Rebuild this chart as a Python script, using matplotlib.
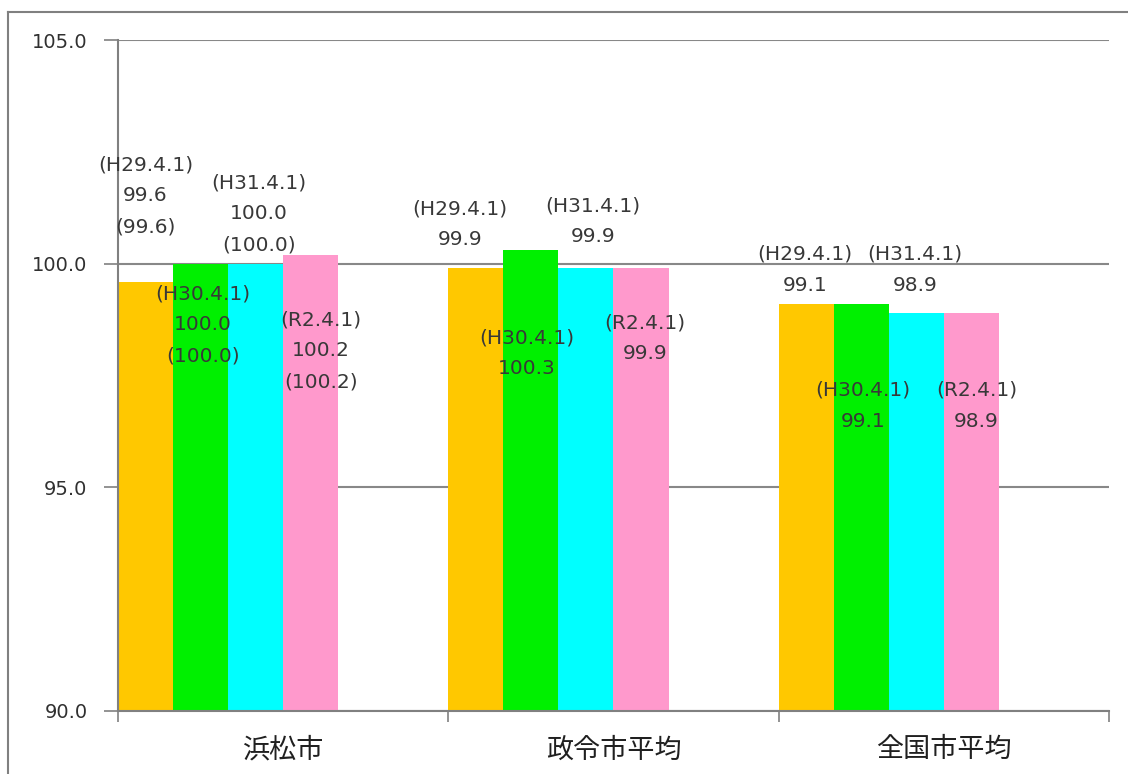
import matplotlib
matplotlib.use("Agg")
import matplotlib.pyplot as plt
from matplotlib.lines import Line2D
import numpy as np

plt.rcParams['font.family'] = ['DejaVu Sans', 'Noto Sans CJK JP']

categories = ['浜松市', '政令市平均', '全国市平均']
series_names = ['H29.4.1', 'H30.4.1', 'H31.4.1', 'R2.4.1']
h29 = [99.6, 99.9, 99.1]
h30 = [100.0, 100.3, 99.1]
h31 = [100.0, 99.9, 98.9]
r2 = [100.2, 99.9, 98.9]
# 浜松市 only: figure in brackets
hamamatsu_paren = [99.6, 100.0, 100.0, 100.2]

series = [h29, h30, h31, r2]
colors = ['#FFC800', '#00F000', '#00FFFF', '#FF99CC']

# label offsets (pixels) from each bar top, per series, per category
label_offsets = [
    [(0, 86), (-16, 44), (-1, 34)],
    [(2, -61), (-4, -103), (2, -102)],
    [(3, 50), (7, 47), (-1, 43)],
    [(10, -96), (4, -70), (5, -93)],
]

fig = plt.figure(figsize=(11.28, 7.74), dpi=100)
W, H = 1128, 774
ax = fig.add_axes([118 / W, (H - 711) / H, (1109 - 118) / W, (711 - 40) / H])

x = np.arange(len(categories))
slots = 6
width = 1 / slots
for j, vals in enumerate(series):
    pos = x - 0.5 + (j + 0.5) * width
    ax.bar(pos, [v - 90 for v in vals], width=width, bottom=90, color=colors[j],
           edgecolor='none', zorder=2)
    for i, v in enumerate(vals):
        txt = '(%s)\n%.1f' % (series_names[j], v)
        if i == 0:
            txt += '\n(%.1f)' % hamamatsu_paren[j]
        dx, dy = label_offsets[j][i]
        ax.annotate(txt, xy=(pos[i], v), xytext=(dx, dy), textcoords='offset pixels',
                    ha='center', va='center', multialignment='center',
                    fontsize=14.5, color='#383838', linespacing=1.8, zorder=3)

ax.set_xlim(-0.5, 2.5)
ax.set_ylim(90, 105)
ax.set_yticks([90, 95, 100, 105])
ax.set_yticklabels(['%.1f' % t for t in [90, 95, 100, 105]])
ax.yaxis.grid(True, color='#888888', linewidth=1.5, zorder=1)
ax.set_axisbelow(True)

ax.set_xticks(x)
ax.set_xticklabels(categories, fontsize=19.5, color='#202020')
ax.set_xticks([-0.5, 0.5, 1.5, 2.5], minor=True)
ax.tick_params(axis='x', which='major', length=0, pad=19)
ax.tick_params(axis='x', which='minor', length=8, color='#808080', width=1.2)
ax.tick_params(axis='y', length=10, color='#808080', width=1.2, pad=12,
               labelsize=14, labelcolor='#303030')

for s in ['top', 'right']:
    ax.spines[s].set_visible(False)
for s in ['left', 'bottom']:
    ax.spines[s].set_color('#808080')
    ax.spines[s].set_linewidth(1.5)

# outer chart border
fig.add_artist(Line2D([8 / W, 8 / W], [0, 1 - 12 / H], color='#808080', linewidth=1.5))
fig.add_artist(Line2D([8 / W, 1], [1 - 12 / H, 1 - 12 / H], color='#808080', linewidth=1.5))

fig.savefig('out.png', dpi=100)
